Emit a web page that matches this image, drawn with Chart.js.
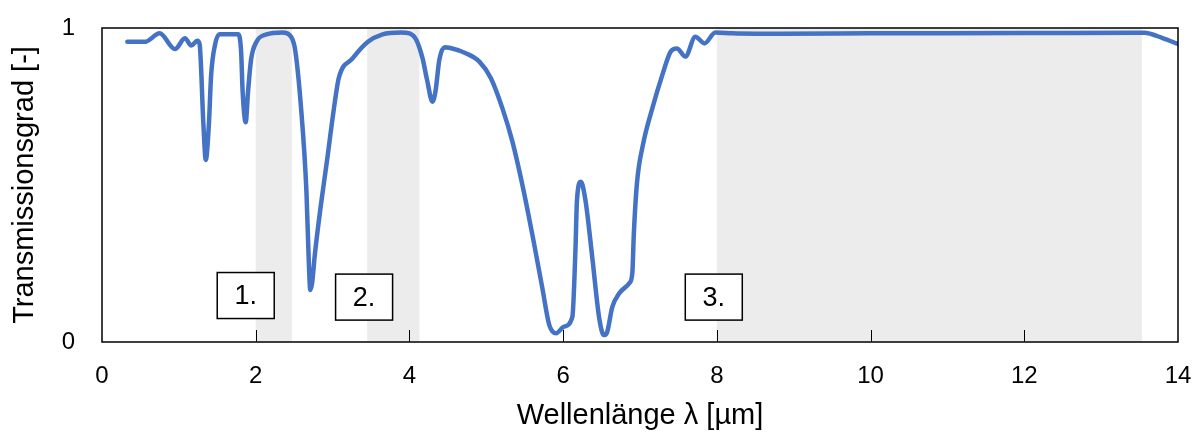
<!DOCTYPE html>
<html>
<head>
<meta charset="utf-8">
<script src="https://cdn.jsdelivr.net/npm/chart.js@4"></script>
<style>
  html, body { margin: 0; padding: 0; background: #ffffff; }
  #wrap { width: 1200px; height: 433px; }
</style>
</head>
<body>
<div id="wrap"><canvas id="chart" width="1200" height="433"></canvas></div>
<script>
// Transmission spectrum: wavelength in µm, transmission in [0..1]
const wavelength = [
  0.33, 0.56, 0.75, 0.95, 1.08, 1.16, 1.24, 1.27, 1.32, 1.35, 1.39, 1.42, 1.47, 1.53,
  1.77, 1.81, 1.83, 1.87, 1.90, 1.94, 2.01, 2.14, 2.35, 2.44, 2.51, 2.59, 2.66, 2.69,
  2.71, 2.735, 2.77, 2.85, 2.92, 3.03, 3.08, 3.26, 3.46, 3.65, 3.89, 4.00, 4.09, 4.17, 4.23,
  4.30, 4.34, 4.39, 4.46, 4.52, 4.74, 4.91, 5.06, 5.21, 5.34, 5.47, 5.60, 5.73, 5.82,
  5.91, 6.01, 6.12, 6.16, 6.18, 6.23, 6.29, 6.38, 6.47, 6.53, 6.57, 6.64, 6.73, 6.86,
  6.90, 6.92, 6.96, 7.04, 7.16, 7.29, 7.40, 7.48, 7.59, 7.72, 7.84, 7.98, 8.20, 8.50,
  8.87, 10.0, 12.0, 13.56, 13.80, 14.0
];
const transmission = [
  0.956, 0.956, 0.983, 0.933, 0.967, 0.944, 0.959, 0.948, 0.69, 0.58, 0.69, 0.85, 0.946, 0.98,
  0.98, 0.925, 0.797, 0.70, 0.797, 0.90, 0.956, 0.98, 0.986, 0.978, 0.935, 0.745, 0.479, 0.26,
  0.166, 0.19, 0.28, 0.44, 0.564, 0.765, 0.840, 0.903, 0.956, 0.980, 0.986, 0.983, 0.962, 0.904, 0.834,
  0.765, 0.80, 0.90, 0.939, 0.937, 0.919, 0.893, 0.84, 0.744, 0.638, 0.50, 0.341, 0.171, 0.054,
  0.028, 0.049, 0.08, 0.293, 0.452, 0.51, 0.452, 0.267, 0.075, 0.022, 0.03, 0.112, 0.155, 0.187,
  0.219, 0.346, 0.505, 0.63, 0.744, 0.850, 0.925, 0.935, 0.909, 0.972, 0.951, 0.986, 0.983, 0.982,
  0.982, 0.983, 0.984, 0.985, 0.968, 0.949
];

// Atmospheric windows (shaded bands), wavelength ranges in µm
const windowStart = [2.0, 3.45, 8.0];
const windowEnd   = [2.47, 4.13, 13.53];

// Numbered labels for the windows: text and anchor (µm, transmission)
const windowLabels = ['1.', '2.', '3.'];
const labelX = [1.87, 3.41, 7.96];
const labelY = [0.148, 0.143, 0.143];

// Axis ticks
const xTicks = [0, 2, 4, 6, 8, 10, 12, 14];
const yTicks = [0, 1];

const FONT = "'Liberation Sans', Arial, sans-serif";

// fixed axis box sizes, no extra room for overflowing end labels
function fixBox(size, prop) {
  return s => {
    s[prop] = size;
    s.paddingTop = 0; s.paddingBottom = 0; s.paddingLeft = 0; s.paddingRight = 0;
  };
}

const bandsPlugin = {
  id: 'bands',
  beforeDatasetsDraw(chart) {
    const { ctx, chartArea: a, scales: { x } } = chart;
    ctx.save();
    ctx.fillStyle = '#ececec';
    for (let i = 0; i < windowStart.length; i++) {
      const x0 = x.getPixelForValue(windowStart[i]);
      const x1 = x.getPixelForValue(windowEnd[i]);
      ctx.fillRect(x0, a.top, x1 - x0, a.bottom - a.top);
    }
    ctx.restore();
  }
};

const framePlugin = {
  id: 'frame',
  afterDatasetsDraw(chart) {
    const { ctx, chartArea: a, scales: { x, y } } = chart;
    ctx.save();
    // inner tick marks on the bottom axis
    ctx.strokeStyle = '#000';
    ctx.lineWidth = 1;
    xTicks.forEach(v => {
      if (v === x.min || v === x.max) return;
      const px = Math.round(x.getPixelForValue(v)) + 0.5;
      ctx.beginPath();
      ctx.moveTo(px, a.bottom);
      ctx.lineTo(px, a.bottom - 12);
      ctx.stroke();
    });
    // plot frame
    ctx.lineWidth = 1.5;
    ctx.strokeRect(a.left, a.top, a.right - a.left, a.bottom - a.top);

    // numbered window labels
    const w = 57, h = 46;
    ctx.font = '27px ' + FONT;
    ctx.textAlign = 'center';
    ctx.textBaseline = 'middle';
    for (let i = 0; i < windowLabels.length; i++) {
      const cx = x.getPixelForValue(labelX[i]);
      const cy = y.getPixelForValue(labelY[i]);
      ctx.fillStyle = '#fff';
      ctx.fillRect(cx - w / 2, cy - h / 2, w, h);
      ctx.lineWidth = 1.5;
      ctx.strokeStyle = '#000';
      ctx.strokeRect(cx - w / 2, cy - h / 2, w, h);
      ctx.fillStyle = '#000';
      ctx.fillText(windowLabels[i], cx, cy + 1);
    }
    ctx.restore();
  }
};

new Chart(document.getElementById('chart'), {
  type: 'line',
  data: {
    datasets: [{
      data: wavelength.map((w, i) => ({ x: w, y: transmission[i] })),
      borderColor: '#4472c4',
      borderWidth: 4.5,
      pointRadius: 0,
      cubicInterpolationMode: 'monotone',
      borderCapStyle: 'round',
      borderJoinStyle: 'round',
      fill: false
    }]
  },
  options: {
    responsive: false,
    animation: false,
    events: [],
    layout: { padding: { top: 28, right: 22, left: 0, bottom: 0 } },
    plugins: { legend: { display: false }, tooltip: { enabled: false } },
    scales: {
      x: {
        type: 'linear',
        min: 0, max: 14,
        afterBuildTicks: s => { s.ticks = xTicks.map(v => ({ value: v })); },
        afterFit: fixBox(91, 'height'),
        grid: { display: false, drawTicks: false },
        border: { display: false },
        ticks: { color: '#000', font: { family: FONT, size: 24 }, padding: 20, maxRotation: 0 },
        title: { display: true, text: 'Wellenlänge λ [µm]', color: '#000',
                 font: { family: FONT, size: 29 }, padding: { top: 4, bottom: 0 } }
      },
      y: {
        type: 'linear',
        min: 0, max: 1,
        afterBuildTicks: s => { s.ticks = yTicks.map(v => ({ value: v })); },
        afterFit: fixBox(102, 'width'),
        grid: { display: false, drawTicks: false },
        border: { display: false },
        ticks: { color: '#000', font: { family: FONT, size: 24 }, padding: 27 },
        title: { display: true, text: 'Transmissionsgrad [-]', color: '#000',
                 font: { family: FONT, size: 29 }, padding: { top: 8, bottom: 0 } }
      }
    }
  },
  plugins: [bandsPlugin, framePlugin]
});
</script>
</body>
</html>
